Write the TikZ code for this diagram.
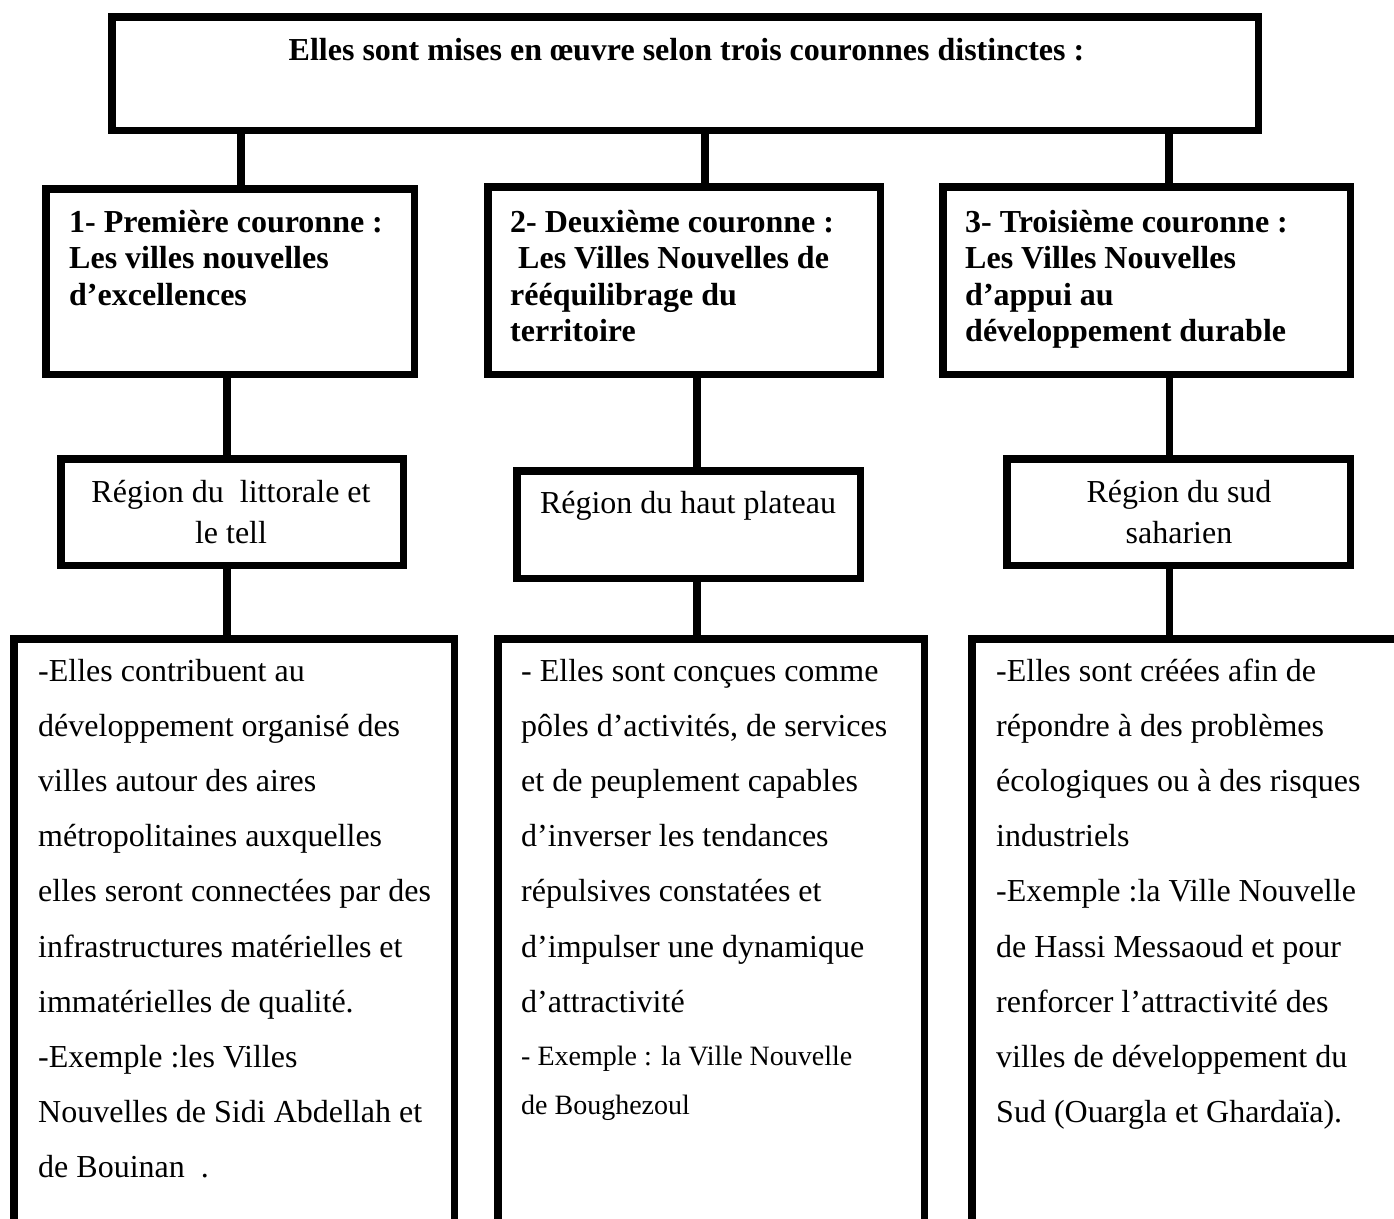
\documentclass[tikz,border=0pt]{standalone}
\usepackage{fontspec}
\setmainfont{Liberation Serif}

\begin{document}
\begin{tikzpicture}[x=1pt, y=-1pt,
  box/.style={draw, line width=7.5pt, inner sep=0pt, outer sep=0pt, anchor=north west},
  head/.style={font=\fontsize{32}{36.5}\selectfont\bfseries, align=left, anchor=base west, inner sep=0pt},
  region/.style={font=\fontsize{32}{41}\selectfont, align=center, anchor=base, inner sep=0pt},
  body/.style={font=\fontsize{32}{55.2}\selectfont, align=left, anchor=base west, inner sep=0pt},
  small/.style={font=\fontsize{28}{49}\selectfont, align=left, anchor=base west, inner sep=0pt},
  link/.style={line width=7.5pt}
]
\useasboundingbox (0,0) rectangle (1394,1218);
\clip (0,0) rectangle (1394,1218);

% boxes
\node[box, minimum width=1146.5pt, minimum height=113.5pt] (top) at (111.75,16.75) {};
\node[box, minimum width=368.5pt, minimum height=185.5pt] (c1) at (45.75,188.75) {};
\node[box, minimum width=392.5pt, minimum height=187.5pt] (c2) at (487.75,186.75) {};
\node[box, minimum width=407.5pt, minimum height=187.5pt] (c3) at (942.75,186.75) {};
\node[box, minimum width=342.5pt, minimum height=106.5pt] (r1) at (60.75,458.75) {};
\node[box, minimum width=343.5pt, minimum height=107.5pt] (r2) at (516.75,470.75) {};
\node[box, minimum width=343.5pt, minimum height=106.5pt] (r3) at (1006.75,458.75) {};
\node[box, minimum width=440.5pt, minimum height=700pt] (d1) at (13.75,638.75) {};
\node[box, minimum width=426.5pt, minimum height=700pt] (d2) at (497.75,638.75) {};
\node[box, minimum width=478.25pt, minimum height=700pt] (d3) at (971.75,638.75) {};

% texts (base = baseline of the last line)
\node[font=\fontsize{32}{36}\selectfont\bfseries, anchor=base, inner sep=0pt] (ttl) at (686.5,60)
  {Elles sont mises en œuvre selon trois couronnes distinctes :};
\node[head] (h1) at (69,305) {1- Première couronne :\\Les villes nouvelles\\d’excellences};
\node[head] (h2) at (510,341.5) {2- Deuxième couronne :\\\hspace{0.25em}Les Villes Nouvelles de\\rééquilibrage du\\territoire};
\node[head] (h3) at (965,341.5) {3- Troisième couronne :\\Les Villes Nouvelles\\d’appui au\\développement durable};
\node[region] (g1) at (231,543) {Région du~~littorale et\\le tell};
\node[region] (g2) at (688,513) {Région du haut plateau};
\node[region] (g3) at (1179,543) {Région du sud\\saharien};
\node[body] (e1) at (38,1177.8) {-Elles contribuent au\\développement organisé des\\villes autour des aires\\métropolitaines auxquelles\\elles seront connectées par des\\infrastructures matérielles et\\immatérielles de qualité.\\-Exemple :les Villes\\Nouvelles de Sidi Abdellah et\\de Bouinan~~.};
\node[body] (e2) at (521,1012.2) {- Elles sont conçues comme\\pôles d’activités, de services\\et de peuplement capables\\d’inverser les tendances\\répulsives constatées et\\d’impulser une dynamique\\d’attractivité};
\node[small] (x2) at (521,1114) {- Exemple : la Ville Nouvelle\\de Boughezoul};
\node[body] (e3) at (996,1122.6) {-Elles sont créées afin de\\répondre à des problèmes\\écologiques ou à des risques\\industriels\\-Exemple :la Ville Nouvelle\\de Hassi Messaoud et pour\\renforcer l’attractivité des\\villes de développement du\\Sud (Ouargla et Ghardaïa).};

% connectors
\coordinate (k1) at (241,0);
\coordinate (k2) at (705,0);
\coordinate (k3) at (1169,0);
\coordinate (m1) at (227,0);
\coordinate (m2) at (697,0);
\coordinate (m3) at (1169.5,0);
\foreach \k/\c in {k1/c1,k2/c2,k3/c3}
  \draw[link] (top.south -| \k) -- (\c.north -| \k);
\foreach \m/\c/\r/\d in {m1/c1/r1/d1,m2/c2/r2/d2,m3/c3/r3/d3}{
  \draw[link] (\c.south -| \m) -- (\r.north -| \m);
  \draw[link] (\r.south -| \m) -- (\d.north -| \m);
}
\end{tikzpicture}
\end{document}
